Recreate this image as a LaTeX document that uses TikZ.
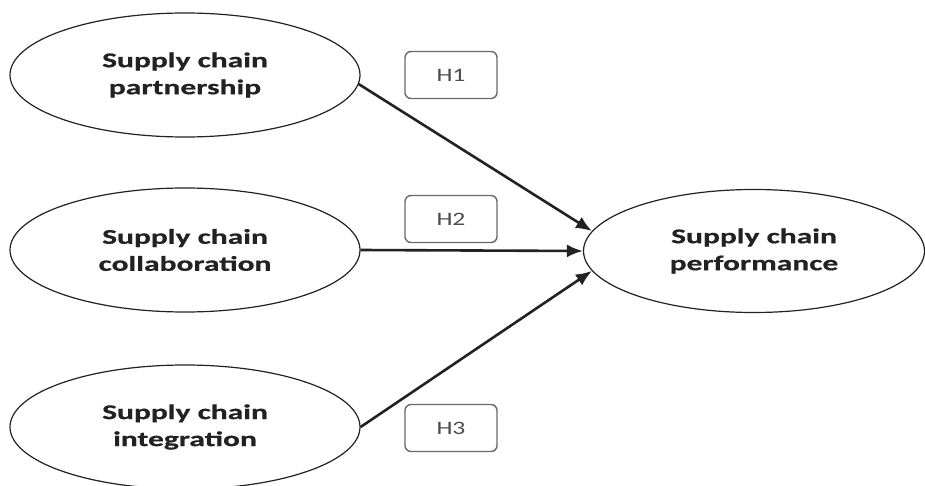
\documentclass[tikz,border=0pt]{standalone}
\usepackage{fontspec}
\usetikzlibrary{shapes.geometric,arrows.meta}
\newfontfamily\cbold[FakeStretch=1.5,FakeBold=0.6]{Carlito Bold}
\newfontfamily\creg[FakeStretch=1.35]{Carlito}
\definecolor{ink}{HTML}{222222}
\definecolor{boxline}{HTML}{6A6A6A}
\tikzset{
  construct/.style={ellipse, draw=ink, line width=1.2pt, inner sep=0pt,
    minimum width=350pt, minimum height=124pt, align=center, text=ink,
    font=\cbold\fontsize{21}{27}\selectfont},
  hbox/.style={rectangle, rounded corners=6pt, draw=boxline, line width=1.4pt,
    minimum width=92pt, minimum height=47pt, inner sep=0pt, text=black!70,
    font=\creg\fontsize{19}{22}\selectfont},
  path/.style={draw=ink, line width=2.6pt, -{Latex[length=16pt,width=13pt]}}
}
\begin{document}
\begin{tikzpicture}[x=1pt,y=-1pt]
\useasboundingbox (0,0) rectangle (925,486);
\node[construct] (e1) at (185,75) {Supply chain\\partnership};
\node[construct] (e2) at (185,250) {Supply chain\\collaboration};
\node[construct] (e3) at (185,427) {Supply chain\\integration};
\node[construct, minimum width=341pt, minimum height=123pt] (p) at (754,251) {Supply chain\\performance};
\node[hbox] (h1) at (451,75) {H1};
\node[hbox] (h2) at (451,219) {H2};
\node[hbox] (h3) at (451,428) {H3};
\draw[path] (e1.-3) -- (p.173);
\draw[path] (e2.east) -- (p.west);
\draw[path] (e3.east) -- (p.187);
\end{tikzpicture}
\end{document}
